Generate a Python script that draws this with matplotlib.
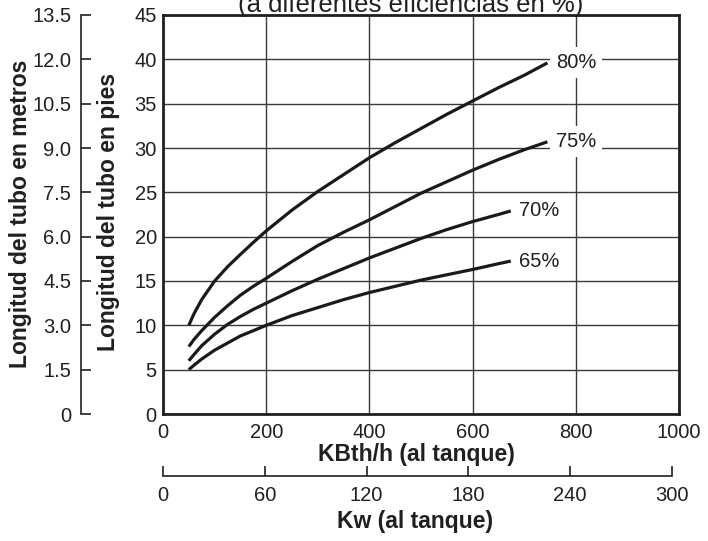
import matplotlib
matplotlib.use("Agg")
import matplotlib.pyplot as plt
from matplotlib.ticker import FixedLocator

plt.rcParams['font.family'] = ['Liberation Sans', 'DejaVu Sans']

# ---------------- data ----------------
x80 = [50, 60, 75, 100, 125, 150, 175, 200, 250, 300, 350, 400, 450, 500, 550, 600, 650, 700, 745]
y80 = [10, 11.3, 12.9, 15.0, 16.6, 18.0, 19.35, 20.65, 23.0, 25.1, 27.0, 28.9, 30.6, 32.2, 33.8, 35.3, 36.8, 38.2, 39.6]

x75 = [50, 60, 75, 100, 125, 150, 175, 200, 250, 300, 350, 400, 450, 500, 550, 600, 650, 700, 745]
y75 = [7.6, 8.4, 9.4, 10.9, 12.2, 13.4, 14.4, 15.3, 17.2, 19.0, 20.5, 21.9, 23.4, 24.9, 26.2, 27.5, 28.7, 29.8, 30.7]

x70 = [50, 60, 75, 100, 125, 150, 175, 200, 250, 300, 350, 400, 450, 500, 550, 600, 650, 674]
y70 = [6.0, 6.7, 7.7, 9.0, 10.1, 11.0, 11.8, 12.5, 13.9, 15.2, 16.4, 17.6, 18.7, 19.8, 20.8, 21.7, 22.5, 22.9]

x65 = [50, 60, 75, 100, 125, 150, 175, 200, 250, 300, 350, 400, 450, 500, 550, 600, 650, 674]
y65 = [5.0, 5.5, 6.2, 7.2, 8.0, 8.8, 9.4, 10.0, 11.1, 12.0, 12.9, 13.7, 14.4, 15.1, 15.7, 16.3, 16.95, 17.25]

curve_labels = ['80%', '75%', '70%', '65%']

kbtu_ticks = [0, 200, 400, 600, 800, 1000]
feet_ticks = [0, 5, 10, 15, 20, 25, 30, 35, 40, 45]
metre_ticks = [0, 1.5, 3.0, 4.5, 6.0, 7.5, 9.0, 10.5, 12.0, 13.5]
metre_ticklabels = ['0', '1.5', '3.0', '4.5', '6.0', '7.5', '9.0', '10.5', '12.0', '13.5']
kw_ticks = [0, 60, 120, 180, 240, 300]

title = '(a diferentes eficiencias en %)'
xlabel_main = 'KBth/h (al tanque)'
xlabel_kw = 'Kw (al tanque)'
ylabel_ft = 'Longitud del tubo en pies'
ylabel_m = 'Longitud del tubo en metros'

# ---------------- figure ----------------
W, H = 708, 541
fig = plt.figure(figsize=(W / 100, H / 100), dpi=100)
ink = '#231f20'
gridc = '#3a3a3a'

def fx(px):
    return px / W

def fy(py):
    return 1 - py / H

left, right, top, bottom = 163, 679, 15, 414
ax = fig.add_axes([fx(left), fy(bottom), fx(right - left), (bottom - top) / H])
ax.set_xlim(0, 1000)
ax.set_ylim(0, 45)
ax.xaxis.set_major_locator(FixedLocator(kbtu_ticks))
ax.yaxis.set_major_locator(FixedLocator(feet_ticks))
ax.grid(True, color=gridc, linewidth=1.0)
ax.set_axisbelow(True)
for s in ax.spines.values():
    s.set_linewidth(2.0)
    s.set_color(ink)
ax.tick_params(axis='both', length=0, labelsize=14.5, colors=ink)
ax.tick_params(axis='x', pad=6.5)
ax.tick_params(axis='y', pad=4.5)

series = [(x80, y80), (x75, y75), (x70, y70), (x65, y65)]
for (xs, ys), lab in zip(series, curve_labels):
    ax.plot(xs, ys, color='#1a1a1a', linewidth=2.3, solid_capstyle='butt',
            solid_joinstyle='round', zorder=3)
    ax.annotate(lab, xy=(xs[-1], ys[-1]), xytext=(6, 0), textcoords='offset points',
                va='center', ha='left', fontsize=14.5, color=ink, zorder=4,
                bbox=dict(boxstyle='square,pad=0.3', facecolor='white', edgecolor='none'))

# metres axis
axm = fig.add_axes([fx(81), fy(bottom), 0.0001, (bottom - top) / H])
axm.set_ylim(0, 13.5)
axm.patch.set_visible(False)
for k in ['top', 'right', 'bottom']:
    axm.spines[k].set_visible(False)
axm.spines['left'].set_linewidth(1.2)
axm.spines['left'].set_color(ink)
axm.set_xticks([])
axm.yaxis.set_major_locator(FixedLocator(metre_ticks))
axm.set_yticklabels(metre_ticklabels)
axm.tick_params(axis='y', direction='in', length=7, width=1.2, color=ink,
                labelsize=14.5, labelcolor=ink, pad=7)

# kW axis
kw_y = 475.7
axk = fig.add_axes([fx(163), fy(kw_y), fx(672 - 163), 0.0001])
axk.set_xlim(0, 300)
axk.patch.set_visible(False)
for k in ['top', 'right', 'left']:
    axk.spines[k].set_visible(False)
axk.spines['bottom'].set_linewidth(1.2)
axk.spines['bottom'].set_color(ink)
axk.set_yticks([])
axk.xaxis.set_major_locator(FixedLocator(kw_ticks))
axk.tick_params(axis='x', direction='in', length=7, width=1.2, color=ink,
                labelsize=14.5, labelcolor=ink, pad=7.5)

lab_kw = dict(fontsize=16.5, fontweight='bold', color=ink)
fig.text(fx(416), fy(461), xlabel_main, ha='center', va='baseline', **lab_kw)
fig.text(fx(415), fy(528), xlabel_kw, ha='center', va='baseline', **lab_kw)
fig.text(fx(21), fy(214), ylabel_m, ha='center', va='center', rotation=90, **lab_kw)
fig.text(fx(109), fy(212), ylabel_ft, ha='center', va='center', rotation=90, **lab_kw)

fig.text(fx(411), fy(12), title, ha='center', va='baseline', fontsize=18.5, color=ink)

fig.savefig('out.png', dpi=100)
